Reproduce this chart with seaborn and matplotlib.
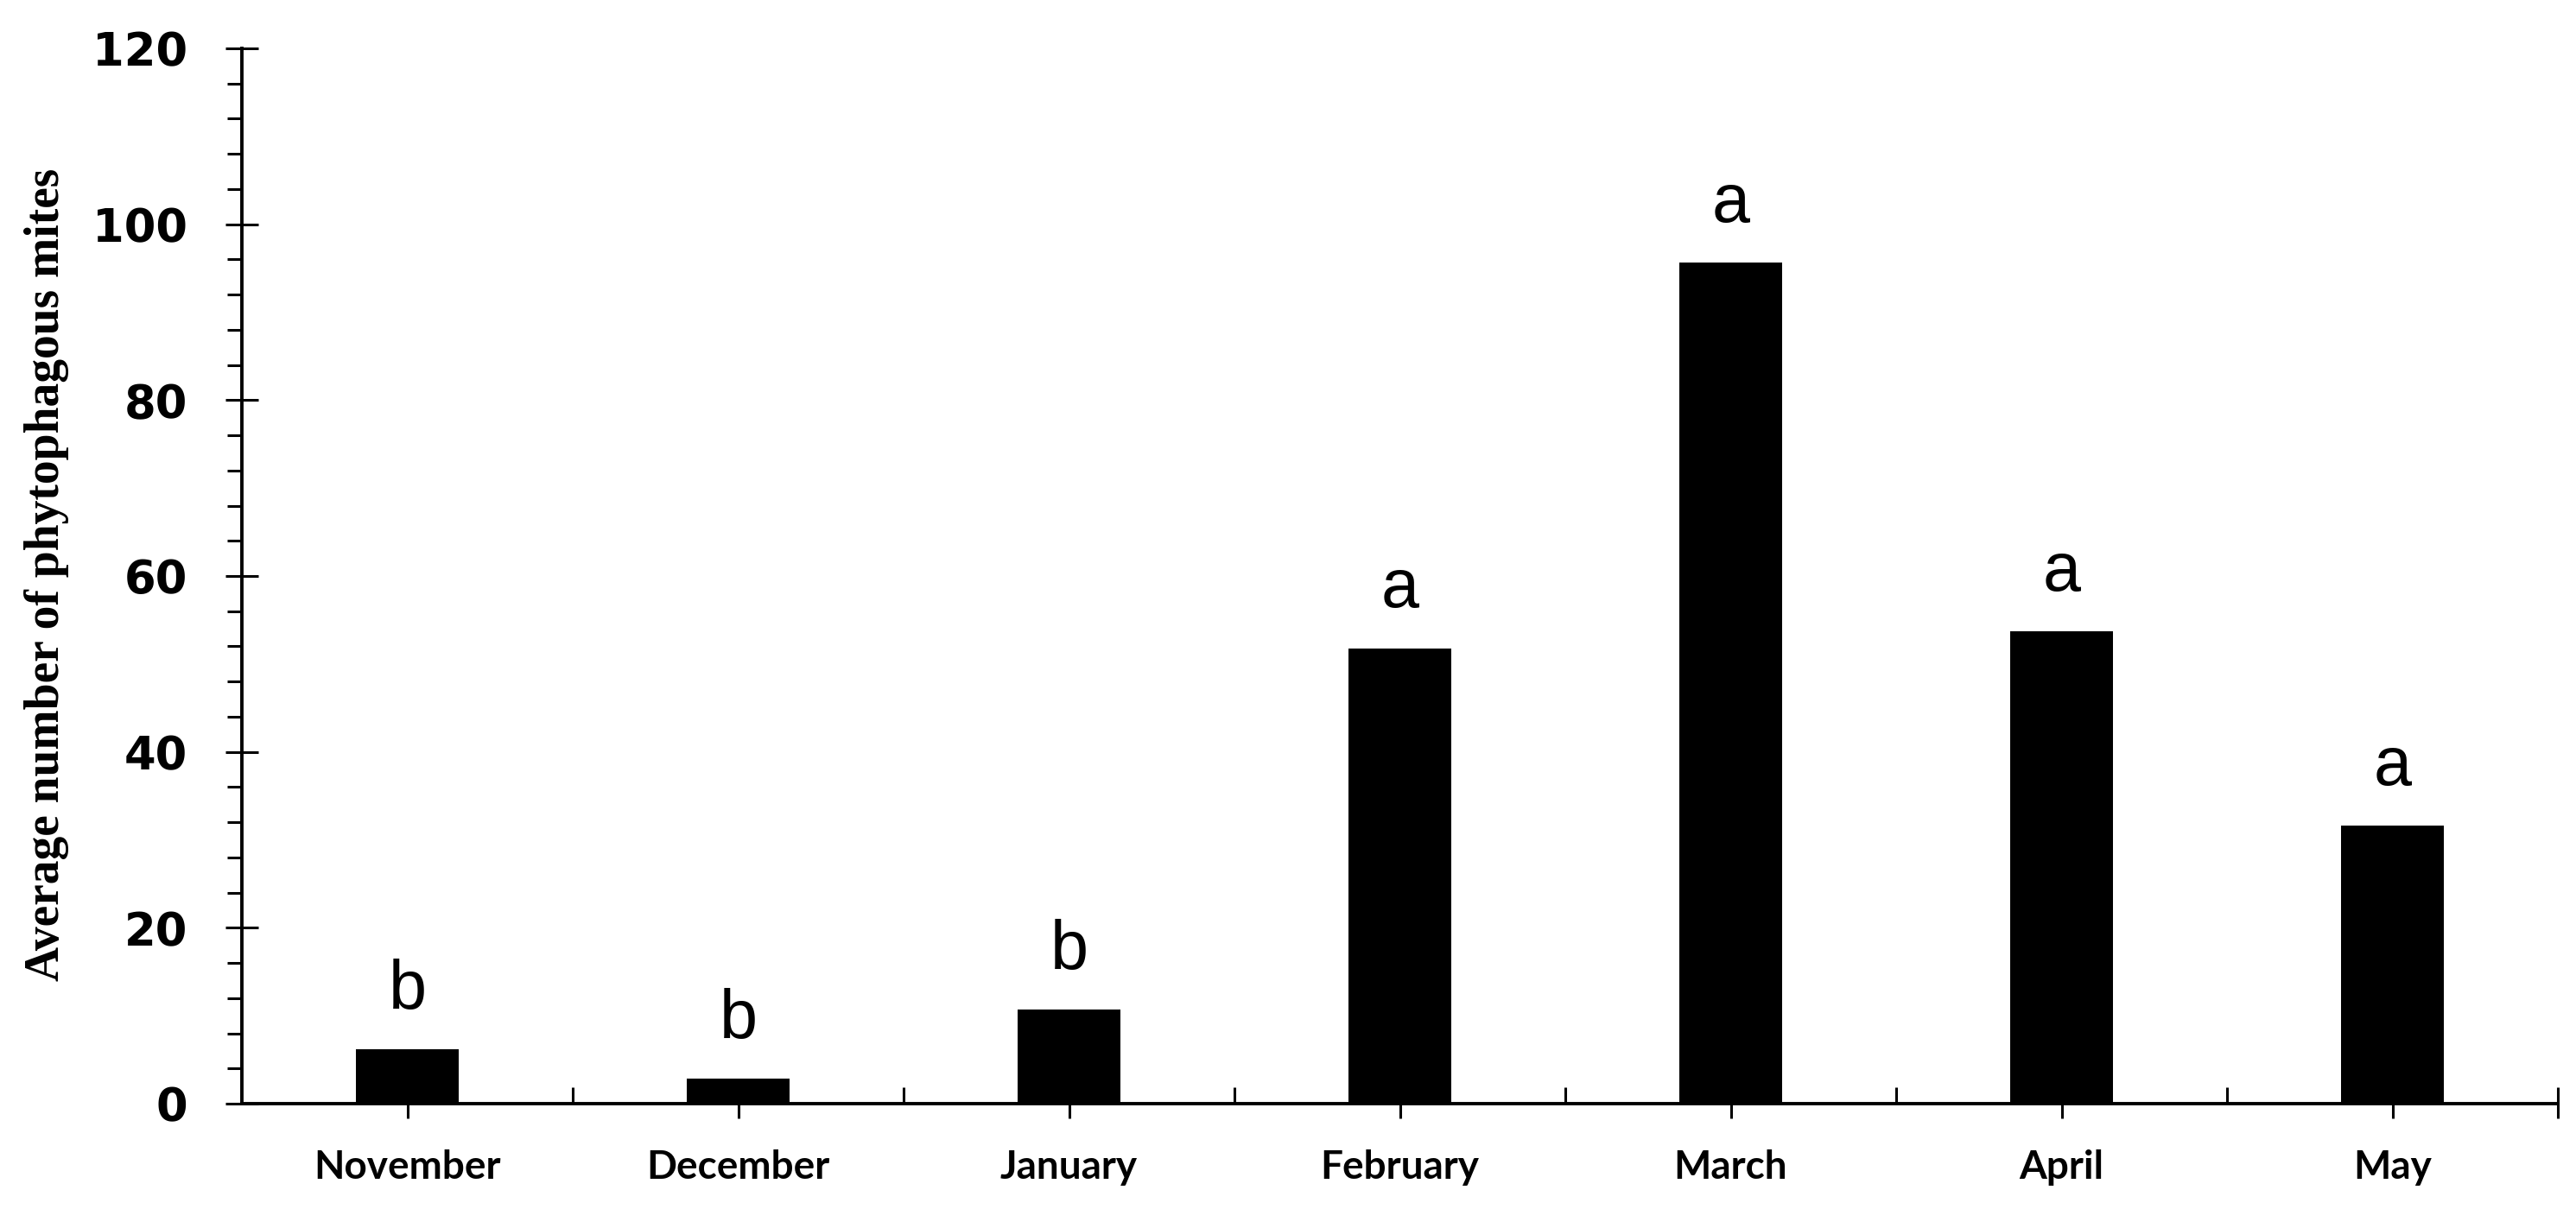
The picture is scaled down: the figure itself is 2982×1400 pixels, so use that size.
import matplotlib
matplotlib.use("Agg")
import matplotlib.pyplot as plt
from matplotlib.ticker import MultipleLocator, FixedLocator
import seaborn as sns
import pandas as pd

months = ["November", "December", "January", "February", "March", "April", "May"]
mites = [6.2, 2.8, 10.7, 51.8, 95.6, 53.7, 31.6]
letters = ["b", "b", "b", "a", "a", "a", "a"]
y_ticks = [0, 20, 40, 60, 80, 100, 120]
y_label = "Average number of phytophagous mites"

sns.set_style("ticks")
plt.rcParams["text.color"] = "black"
plt.rcParams["xtick.color"] = "black"
plt.rcParams["ytick.color"] = "black"
plt.rcParams["axes.edgecolor"] = "black"

df = pd.DataFrame({"month": months, "mites": mites})

fig = plt.figure(figsize=(29.82, 14), dpi=100)
ax = fig.add_axes([280 / 2982, 1 - 1278 / 1400, (2961 - 280) / 2982, (1278 - 56) / 1400])

sns.barplot(data=df, x="month", y="mites", color="black", saturation=1,
            width=0.31, linewidth=0, edgecolor="black", ax=ax)

ax.set_xlim(-0.5, 6.5)
ax.set_ylim(0, 120)
ax.set_yticks(y_ticks)
ax.yaxis.set_minor_locator(MultipleLocator(4))
ax.xaxis.set_minor_locator(FixedLocator([i + 0.5 for i in range(len(months))]))

for s in ["top", "right"]:
    ax.spines[s].set_visible(False)
for s in ["left", "bottom"]:
    ax.spines[s].set_linewidth(2.8)
    ax.spines[s].set_color("black")

ax.tick_params(axis="y", which="major", direction="inout", length=27, width=2.2,
               pad=32, labelsize=38, color="black", labelcolor="black")
ax.tick_params(axis="y", which="minor", direction="out", length=12.5, width=2.2,
               color="black")
ax.tick_params(axis="x", which="major", direction="out", length=12.5, width=2.2,
               pad=26, labelsize=33, color="black", labelcolor="black")
ax.tick_params(axis="x", which="minor", direction="in", length=13.5, width=2.2,
               color="black")

for lab in ax.get_yticklabels():
    lab.set_fontfamily("DejaVu Sans")
    lab.set_fontweight("bold")
for lab in ax.get_xticklabels():
    lab.set_fontfamily("Lato")
    lab.set_fontweight("bold")

sec = ax.secondary_xaxis("bottom")
sec.set_xticks([6.5])
sec.set_xticklabels([""])
sec.tick_params(direction="out", length=12.5, width=2.2, color="black")
sec.spines["bottom"].set_visible(False)

ax.set_xlabel("")
ax.set_ylabel("")
fig.text(54 / 2982, 1 - 665 / 1400, y_label, rotation=90, ha="center", va="center",
         fontsize=40, fontweight="bold", family="Liberation Serif", color="black")

for i, (v, l) in enumerate(zip(mites, letters)):
    ax.annotate(l, xy=(i, v), xytext=(0, 34), textcoords="offset points",
                ha="center", va="baseline", fontsize=57, family="Liberation Sans",
                color="black")

fig.savefig("out.png", dpi=100, facecolor="white")
